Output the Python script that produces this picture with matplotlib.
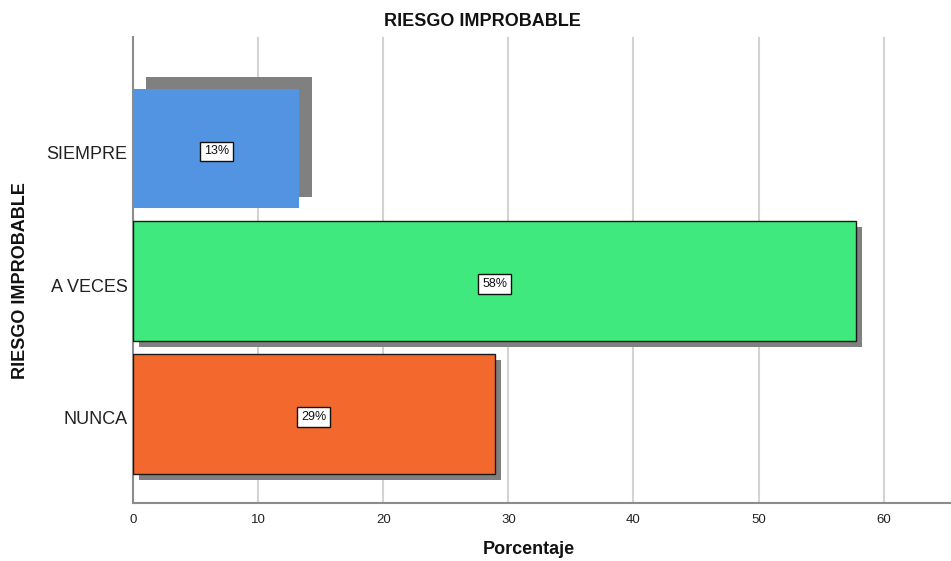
import matplotlib
matplotlib.use("Agg")
import matplotlib.pyplot as plt
import matplotlib.transforms as mtransforms
import numpy as np

# ── Data ──────────────────────────────────────────────────
categories = ["NUNCA", "A VECES", "SIEMPRE"]
percentages = [28.9, 57.8, 13.3]
labels = ["29%", "58%", "13%"]
colors = ["#F2682D", "#40E97D", "#5294E2"]
edges = ["#1A1A1A", "#1A1A1A", "none"]
# shadow offsets (x in %, y in category units) – SPSS draws the top one odd
shadow_dx = [0.48, 0.48, 1.0]
shadow_dy = [-0.045, -0.045, 0.087]

plt.rcParams["font.family"] = ["Liberation Sans", "DejaVu Sans"]

W, H = 951, 561
fig = plt.figure(figsize=(W / 100, H / 100), dpi=100)
fig.patch.set_facecolor("white")

ax = fig.add_axes([133 / W, (H - 503) / H, (950 - 133) / W, (503 - 37) / H])

y = np.arange(len(categories))

# ── Shadows & bars ────────────────────────────────────────
ax.barh(y + np.array(shadow_dy), percentages, left=shadow_dx, height=0.9,
        color="#808080", linewidth=0, zorder=2)
ax.barh(y, percentages, height=0.9, color=colors, edgecolor=edges,
        linewidth=1.0, zorder=3)

down = mtransforms.ScaledTranslation(0, -3 / 100, fig.dpi_scale_trans)
for yi, val, lab in zip(y, percentages, labels):
    ax.text(val / 2, yi, lab, ha="center", va="center", fontsize=9,
            color="#111111", zorder=4, transform=ax.transData + down,
            bbox=dict(facecolor="white", edgecolor="#111111",
                      linewidth=1.0, boxstyle="square,pad=0.3"))

# ── Axes ──────────────────────────────────────────────────
ax.set_xlim(0, 65.3)
ax.set_ylim(-0.671, 2.84)
ax.set_xticks(np.arange(0, 61, 10))
ax.set_yticks(y)
ax.set_yticklabels(categories)

ax.tick_params(axis="x", length=0, pad=8, labelsize=9.5, colors="#222222")
ax.tick_params(axis="y", length=0, pad=4, labelsize=13, colors="#222222")
for lab in ax.get_yticklabels():
    lab.set_transform(lab.get_transform() + mtransforms.ScaledTranslation(
        0, -4 / 100, fig.dpi_scale_trans))

ax.xaxis.grid(True, color="#D3D3D3", linewidth=1.5, zorder=0)
ax.set_axisbelow(True)

for spine in ["top", "right"]:
    ax.spines[spine].set_visible(False)
for spine in ["left", "bottom"]:
    ax.spines[spine].set_color("#8C8C8C")
    ax.spines[spine].set_linewidth(1.5)

# ── Texts ─────────────────────────────────────────────────
fig.text(482 / W, 1 - 22 / H, "RIESGO IMPROBABLE", ha="center", va="center",
         fontsize=13, fontweight="bold", color="#111111")
fig.text(529 / W, 1 - 550 / H, "Porcentaje", ha="center", va="center",
         fontsize=13, fontweight="bold", color="#111111")
fig.text(21 / W, 1 - 281 / H, "RIESGO IMPROBABLE", ha="center", va="center",
         rotation=90, fontsize=13, fontweight="bold", color="#111111")

fig.savefig("out.png", dpi=100, facecolor="white")
